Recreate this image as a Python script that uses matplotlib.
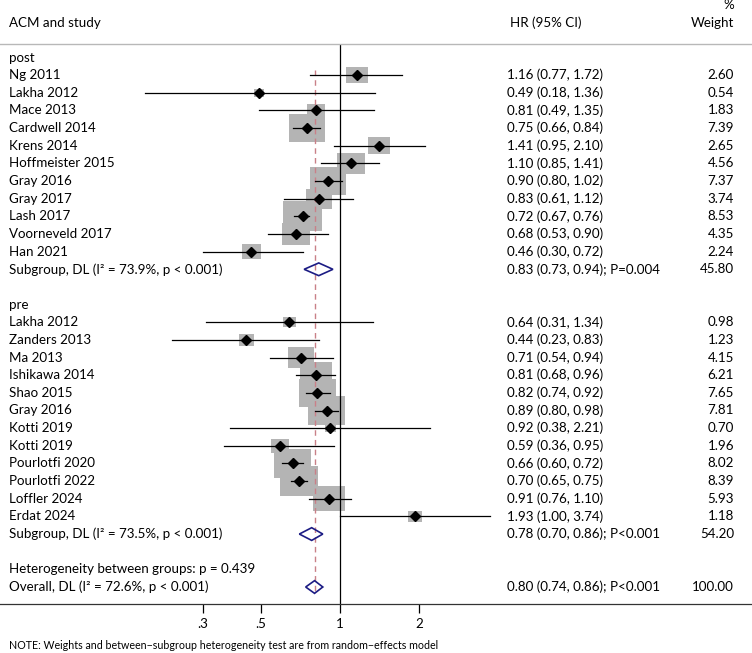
import numpy as np
import matplotlib.pyplot as plt
from matplotlib.patches import Polygon

plt.rcParams['font.family'] = ['Lato', 'DejaVu Sans']

# post-diagnosis studies
post_study = ['Ng 2011', 'Lakha 2012', 'Mace 2013', 'Cardwell 2014', 'Krens 2014',
              'Hoffmeister 2015', 'Gray 2016', 'Gray 2017', 'Lash 2017',
              'Voorneveld 2017', 'Han 2021']
post_hr = [1.16, 0.49, 0.81, 0.75, 1.41, 1.10, 0.90, 0.83, 0.72, 0.68, 0.46]
post_lo = [0.77, 0.18, 0.49, 0.66, 0.95, 0.85, 0.80, 0.61, 0.67, 0.53, 0.30]
post_hi = [1.72, 1.36, 1.35, 0.84, 2.10, 1.41, 1.02, 1.12, 0.76, 0.90, 0.72]
post_w = [2.60, 0.54, 1.83, 7.39, 2.65, 4.56, 7.37, 3.74, 8.53, 4.35, 2.24]

# pre-diagnosis studies
pre_study = ['Lakha 2012', 'Zanders 2013', 'Ma 2013', 'Ishikawa 2014', 'Shao 2015',
             'Gray 2016', 'Kotti 2019', 'Kotti 2019', 'Pourlotfi 2020',
             'Pourlotfi 2022', 'Loffler 2024', 'Erdat 2024']
pre_hr = [0.64, 0.44, 0.71, 0.81, 0.82, 0.89, 0.92, 0.59, 0.66, 0.70, 0.91, 1.93]
pre_lo = [0.31, 0.23, 0.54, 0.68, 0.74, 0.80, 0.38, 0.36, 0.60, 0.65, 0.76, 1.00]
pre_hi = [1.34, 0.83, 0.94, 0.96, 0.92, 0.98, 2.21, 0.95, 0.72, 0.75, 1.10, 3.74]
pre_w = [0.98, 1.23, 4.15, 6.21, 7.65, 7.81, 0.70, 1.96, 8.02, 8.39, 5.93, 1.18]

# summaries: hr, lo, hi
post_sum = (0.83, 0.73, 0.94)
pre_sum = (0.78, 0.70, 0.86)
overall_sum = (0.80, 0.74, 0.86)
post_sum_label = 'Subgroup, DL (I\u00b2 = 73.9%, p < 0.001)'
pre_sum_label = 'Subgroup, DL (I\u00b2 = 73.5%, p < 0.001)'
overall_label = 'Overall, DL (I\u00b2 = 72.6%, p < 0.001)'
het_label = 'Heterogeneity between groups: p = 0.439'
post_sum_text = '0.83 (0.73, 0.94); P=0.004'
pre_sum_text = '0.78 (0.70, 0.86); P<0.001'
overall_text = '0.80 (0.74, 0.86); P<0.001'
post_sum_w = '45.80'
pre_sum_w = '54.20'
overall_w = '100.00'

xticks = [0.3, 0.5, 1, 2]
xticklabels = ['.3', '.5', '1', '2']

W, H = 752, 653
fig = plt.figure(figsize=(W / 100, H / 100), dpi=100)
ax = fig.add_axes([0, 1 - 604 / H, 1, (604 - 44) / H])
ax.set_xscale('log')
px_per_ln = 114.0
x1 = 340.0
ax.set_xlim(np.exp(-x1 / px_per_ln), np.exp((W - x1) / px_per_ln))
row_px = 17.65
y0 = 57.5
ax.set_ylim((604 - y0) / row_px, (44 - y0) / row_px)

fs = 9.6
tx = ax.get_yaxis_transform()
lab_x = 9 / W
hr_x = 507 / W
w_x = 734 / W
box_px_w = 13.2
box_px_h = 10.2

def draw_study(y, hr, lo, hi, w, name):
    hw = box_px_w * np.sqrt(w) / 2 / px_per_ln
    hh = box_px_h * np.sqrt(w) / row_px
    ax.barh(y, hr * np.exp(hw) - hr * np.exp(-hw), left=hr * np.exp(-hw),
            height=hh, color='#b4b4b4', zorder=1)
    ax.plot([lo, hi], [y, y], color='black', lw=0.9, zorder=3)
    ax.plot(hr, y, marker='D', color='black', ms=5.5, zorder=4)
    ax.text(lab_x, y, name, transform=tx, fontsize=fs, va='center')
    ax.text(hr_x, y, f'{hr:.2f} ({lo:.2f}, {hi:.2f})', transform=tx,
            fontsize=fs, va='center')
    ax.text(w_x, y, f'{w:.2f}', transform=tx, fontsize=fs, va='center', ha='right')

def draw_diamond(y, s, label, txt, wtxt):
    hr, lo, hi = s
    h = 0.36
    ax.add_patch(Polygon([(lo, y), (hr, y - h), (hi, y), (hr, y + h)], closed=True,
                         fill=False, edgecolor='#1c1c84', lw=1.2, zorder=5))
    ax.text(lab_x, y, label, transform=tx, fontsize=fs, va='center')
    ax.text(hr_x, y, txt, transform=tx, fontsize=fs, va='center')
    ax.text(w_x, y, wtxt, transform=tx, fontsize=fs, va='center', ha='right')

row = 0
ax.text(lab_x, row, 'post', transform=tx, fontsize=fs, va='center')
row += 1
for i in range(len(post_study)):
    draw_study(row, post_hr[i], post_lo[i], post_hi[i], post_w[i], post_study[i])
    row += 1
draw_diamond(row, post_sum, post_sum_label, post_sum_text, post_sum_w)
row += 2
ax.text(lab_x, row, 'pre', transform=tx, fontsize=fs, va='center')
row += 1
for i in range(len(pre_study)):
    draw_study(row, pre_hr[i], pre_lo[i], pre_hi[i], pre_w[i], pre_study[i])
    row += 1
draw_diamond(row, pre_sum, pre_sum_label, pre_sum_text, pre_sum_w)
row += 2
ax.text(lab_x, row, het_label, transform=tx, fontsize=fs, va='center')
row += 1
draw_diamond(row, overall_sum, overall_label, overall_text, overall_w)

# reference lines
ax.axvline(1, color='black', lw=0.9, zorder=2)
ax.plot([overall_sum[0]] * 2, [0.7, row + 0.35], color='#c98088', lw=1.0,
        ls=(0, (4, 3)), zorder=2)

# header
ax.text(lab_x, -1.95, 'ACM and study', transform=tx, fontsize=fs, va='center', clip_on=False)
ax.text(510 / W, -1.95, 'HR (95% CI)', transform=tx, fontsize=fs, va='center', clip_on=False)
ax.text(w_x, -1.95, 'Weight', transform=tx, fontsize=fs, va='center', ha='right', clip_on=False)
ax.text(w_x, -2.95, '%', transform=tx, fontsize=fs, va='center', ha='right', clip_on=False)
ax.text(lab_x, 33.3, 'NOTE: Weights and between\u2212subgroup heterogeneity test are from random\u2212effects model',
        transform=tx, fontsize=7.7, va='center', clip_on=False)

for s in ['left', 'right']:
    ax.spines[s].set_visible(False)
ax.spines['top'].set_color('#b8b8b8')
ax.spines['top'].set_linewidth(1.0)
ax.spines['bottom'].set_color('#333333')
ax.spines['bottom'].set_linewidth(0.9)
ax.set_yticks([])
ax.set_xticks(xticks)
ax.set_xticklabels(xticklabels, fontsize=fs)
ax.xaxis.set_minor_locator(plt.NullLocator())
ax.tick_params(axis='x', direction='out', length=6.5, width=0.9, pad=3.5)

fig.savefig('out.png', dpi=100)
